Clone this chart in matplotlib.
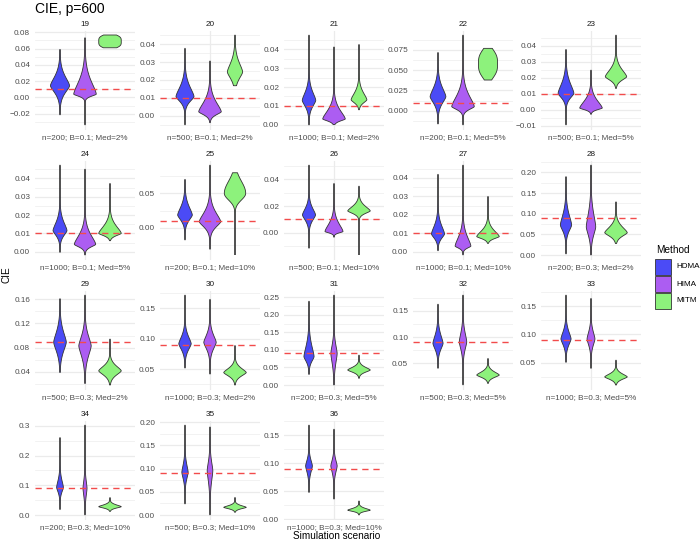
import numpy as np
import matplotlib
matplotlib.use("Agg")
import matplotlib.pyplot as plt
from matplotlib.patches import Rectangle

plt.rcParams['font.family'] = ['Liberation Sans', 'DejaVu Sans']

# ---------------- data ----------------
panel_ids = list(range(19, 37))
scenarios = [
    "n=200; B=0.1; Med=2%", "n=500; B=0.1; Med=2%", "n=1000; B=0.1; Med=2%",
    "n=200; B=0.1; Med=5%", "n=500; B=0.1; Med=5%", "n=1000; B=0.1; Med=5%",
    "n=200; B=0.1; Med=10%", "n=500; B=0.1; Med=10%", "n=1000; B=0.1; Med=10%",
    "n=200; B=0.3; Med=2%", "n=500; B=0.3; Med=2%", "n=1000; B=0.3; Med=2%",
    "n=200; B=0.3; Med=5%", "n=500; B=0.3; Med=5%", "n=1000; B=0.3; Med=5%",
    "n=200; B=0.3; Med=10%", "n=500; B=0.3; Med=10%", "n=1000; B=0.3; Med=10%",
]
true_cie = [0.01] * 9 + [0.09] * 9

y_ticks = [
    [-0.02, 0.0, 0.02, 0.04, 0.06, 0.08],
    [0.0, 0.01, 0.02, 0.03, 0.04],
    [0.0, 0.01, 0.02, 0.03, 0.04],
    [0.0, 0.025, 0.05, 0.075],
    [-0.01, 0.0, 0.01, 0.02, 0.03, 0.04],
    [0.0, 0.01, 0.02, 0.03, 0.04],
    [0.0, 0.05],
    [0.0, 0.02, 0.04],
    [0.0, 0.01, 0.02, 0.03, 0.04],
    [0.0, 0.05, 0.10, 0.15, 0.20],
    [0.04, 0.08, 0.12, 0.16],
    [0.05, 0.10, 0.15],
    [0.0, 0.05, 0.10, 0.15, 0.20, 0.25],
    [0.05, 0.10, 0.15],
    [0.05, 0.10, 0.15],
    [0.0, 0.1, 0.2, 0.3],
    [0.0, 0.05, 0.10, 0.15, 0.20],
    [0.0, 0.05, 0.10, 0.15],
]

methods = ["HDMA", "HIMA", "MITM"]

# per-violin summaries: range, mode, core extent, peak width
hdma_lo = [-0.0214, -0.0052, -0.0002, -0.0165, -0.0096, -0.0004, -0.018, -0.0118, 0.0005,
           0.0024, 0.039, 0.0517, 0.030, 0.0405, 0.0506, 0.018, 0.0237, 0.0476]
hdma_hi = [0.059, 0.0378, 0.0477, 0.072, 0.0377, 0.0473, 0.0704, 0.0508, 0.042,
           0.19, 0.161, 0.172, 0.2395, 0.1627, 0.1696, 0.261, 0.194, 0.168]
hdma_mode = [0.0144, 0.0107, 0.0129, 0.0173, 0.0102, 0.0115, 0.0184, 0.0133, 0.0096,
             0.0726, 0.089, 0.0917, 0.081, 0.088, 0.092, 0.093, 0.092, 0.095]
hdma_core_lo = [-0.009, 0.003, 0.004, -0.005, 0.002, 0.004, -0.003, 0.002, 0.003,
                0.032, 0.047, 0.064, 0.043, 0.056, 0.0625, 0.048, 0.052, 0.0625]
hdma_core_hi = [0.045, 0.0256, 0.025, 0.048, 0.027, 0.024, 0.052, 0.027, 0.022,
                0.141, 0.136, 0.125, 0.166, 0.132, 0.128, 0.16, 0.139, 0.125]
hdma_peak = [0.85, 0.8, 0.6, 0.7, 0.7, 0.62, 0.65, 0.58, 0.58,
             0.5, 0.56, 0.55, 0.45, 0.45, 0.45, 0.3, 0.28, 0.3]

hima_lo = [-0.0338, -0.0039, 0.0, -0.0177, -0.0029, -0.0018, -0.0316, -0.0035, -0.0018,
           0.0, 0.0206, 0.0417, 0.0, 0.0089, 0.0399, 0.0, 0.0, 0.0357]
hima_hi = [0.0734, 0.0307, 0.0414, 0.0935, 0.0248, 0.0451, 0.0913, 0.037, 0.047,
           0.218, 0.167, 0.165, 0.257, 0.18, 0.1637, 0.303, 0.19, 0.1607]
hima_mode = [0.004, 0.0022, 0.003, 0.005, 0.001, 0.004, 0.0087, 0.0008, 0.003,
             0.068, 0.083, 0.094, 0.09, 0.091, 0.092, 0.09, 0.0957, 0.095]
hima_core_lo = [-0.003, -0.0025, 0.0, -0.005, -0.002, 0.0, -0.013, -0.002, 0.0,
                0.012, 0.036, 0.064, 0.01, 0.05, 0.06, 0.015, 0.03, 0.062]
hima_core_hi = [0.047, 0.017, 0.0155, 0.042, 0.014, 0.018, 0.045, 0.017, 0.017,
                0.157, 0.128, 0.128, 0.16, 0.139, 0.128, 0.165, 0.15, 0.125]
hima_peak = [1.0, 1.0, 1.0, 1.0, 1.0, 0.95, 0.95, 0.8, 0.7,
             0.42, 0.55, 0.55, 0.28, 0.33, 0.35, 0.18, 0.25, 0.28]

mitm_lo = [0.061, 0.0168, 0.0079, 0.0379, 0.0133, 0.006, -0.0398, -0.0168, 0.0045,
           0.028, 0.0183, 0.0239, 0.019, 0.012, 0.0107, 0.012, 0.0058, 0.0075]
mitm_hi = [0.0767, 0.0452, 0.0427, 0.077, 0.0467, 0.0373, 0.080, 0.035, 0.030,
           0.129, 0.0944, 0.089, 0.0856, 0.0595, 0.0548, 0.059, 0.038, 0.0327]
mitm_mode = [0.0688, 0.0245, 0.0132, 0.058, 0.0206, 0.010, 0.05, 0.0163, 0.0082,
             0.054, 0.0417, 0.0444, 0.0428, 0.0278, 0.025, 0.028, 0.0165, 0.0161]
mitm_core_lo = [0.0572, 0.014, 0.0085, 0.030, 0.0145, 0.0065, 0.028, 0.011, 0.005,
                0.03, 0.022, 0.028, 0.025, 0.015, 0.013, 0.015, 0.008, 0.010]
mitm_core_hi = [0.0804, 0.0387, 0.0236, 0.086, 0.033, 0.021, 0.09, 0.026, 0.017,
                0.093, 0.064, 0.064, 0.065, 0.045, 0.040, 0.045, 0.027, 0.025]
mitm_peak = [1.0, 0.68, 0.7, 0.85, 0.95, 1.0, 0.95, 1.0, 1.0,
             1.0, 1.0, 1.0, 1.0, 1.0, 1.0, 1.0, 1.0, 1.0]
mitm_flat = [4, 1.5, 1.5, 3, 1.5, 1.5, 2, 1.5, 1.5,
             1.5, 1.5, 1.5, 1.5, 1.5, 1.5, 1.5, 1.5, 1.5]

series = {
    "HDMA": (hdma_lo, hdma_hi, hdma_mode, hdma_core_lo, hdma_core_hi, hdma_peak, [1.5] * 18),
    "HIMA": (hima_lo, hima_hi, hima_mode, hima_core_lo, hima_core_hi, hima_peak, [1.5] * 18),
    "MITM": (mitm_lo, mitm_hi, mitm_mode, mitm_core_lo, mitm_core_hi, mitm_peak, mitm_flat),
}
colors = {"HDMA": "#4B4BF6", "HIMA": "#AC5DF2", "MITM": "#8DF27C"}

# ---------------- layout ----------------
W_PX, H_PX = 700, 541
fig = plt.figure(figsize=(W_PX / 100, H_PX / 100), dpi=100)

col_left = [35, 160, 284, 413, 541]
row_top = [30.5, 160.5, 290.5, 420.5]
panel_w, panel_h = 100, 99
grid_col = "#EBEBEB"
text_col = "#4D4D4D"
small = 5.9


def profile(y, m, clo, chi, p):
    k = 2.6 ** (1.0 / p)
    sL = max(m - clo, 1e-9) / k
    sU = max(chi - m, 1e-9) / k
    d = np.where(y < m, (m - y) / sL, (y - m) / sU)
    return np.exp(-d ** p)


def fmt_ticks(ticks):
    for dec in range(0, 5):
        if all(abs(round(t, dec) - t) < 1e-9 for t in ticks):
            break
    return [f"{t:.{dec}f}".replace("-", "\u2212") for t in ticks]


dodge = [0.7, 1.0, 1.3]
max_half = 0.135

for i, pid in enumerate(panel_ids):
    r, c = divmod(i, 5)
    x0, y0 = col_left[c], row_top[r]
    ax = fig.add_axes([x0 / W_PX, 1 - (y0 + panel_h) / H_PX, panel_w / W_PX, panel_h / H_PX])
    ax.set_facecolor("white")
    for s in ax.spines.values():
        s.set_visible(False)

    lows = [series[m][0][i] for m in methods] + [true_cie[i]]
    highs = [series[m][1][i] for m in methods] + [true_cie[i]]
    lo_all, hi_all = min(lows), max(highs)
    pad = 0.05 * (hi_all - lo_all)
    ylim = (lo_all - pad, hi_all + pad)
    ax.set_ylim(*ylim)
    ax.set_xlim(0.4, 1.6)

    ticks = y_ticks[i]
    step = ticks[1] - ticks[0]
    minor = np.arange(ticks[0] - step / 2, ylim[1], step)
    for t in minor:
        if ylim[0] <= t <= ylim[1]:
            ax.axhline(t, color=grid_col, lw=0.45, zorder=0)
    for t in ticks:
        ax.axhline(t, color=grid_col, lw=0.9, zorder=0)
    ax.axvline(1.0, color=grid_col, lw=0.9, zorder=0)

    for j, m in enumerate(methods):
        lo, hi, mode, clo, chi, peak, flat = (arr[i] for arr in series[m])
        yy = np.linspace(lo, hi, 400)
        hw = peak * max_half * profile(yy, mode, clo, chi, flat)
        xs = np.concatenate([dodge[j] - hw, (dodge[j] + hw)[::-1]])
        ys = np.concatenate([yy, yy[::-1]])
        ax.fill(xs, ys, facecolor=colors[m], edgecolor="#333333", lw=0.6, zorder=2)

    ax.axhline(true_cie[i], color="#F24B4B", lw=1.0, dashes=(4.5, 3.5), zorder=3)

    ax.set_yticks(ticks)
    ax.set_yticklabels(fmt_ticks(ticks))
    ax.set_xticks([1.0])
    ax.set_xticklabels([scenarios[i]])
    ax.tick_params(axis="both", length=0, labelsize=small, colors=text_col)
    ax.tick_params(axis="y", pad=3.5)
    ax.tick_params(axis="x", pad=3.0)

    fig.text((x0 + panel_w / 2) / W_PX, 1 - (24 + 130 * r) / H_PX, str(pid),
             ha="center", va="center", fontsize=small, color="#1A1A1A")

# titles
fig.text(35 / W_PX, 1 - 9 / H_PX, "CIE, p=600", ha="left", va="center", fontsize=10, color="black")
fig.text(6 / W_PX, 1 - 275 / H_PX, "CIE", ha="center", va="center", rotation=90, fontsize=7.2, color="black")
fig.text(337 / W_PX, 1 - 536 / H_PX, "Simulation scenario", ha="center", va="center", fontsize=7.2, color="black")

# legend
fig.text(656 / W_PX, 1 - 250 / H_PX, "Method", ha="left", va="center", fontsize=7.2, color="black")
key_tops = [259, 276, 293]
for m, kt in zip(methods, key_tops):
    fig.add_artist(Rectangle((655 / W_PX, 1 - (kt + 16) / H_PX), 16 / W_PX, 16 / H_PX,
                             transform=fig.transFigure, facecolor=colors[m],
                             edgecolor="#333333", lw=0.6))
    fig.text(676 / W_PX, 1 - (kt + 8) / H_PX, m, ha="left", va="center", fontsize=small, color="black")

fig.savefig("out.png", dpi=100, facecolor="white")
